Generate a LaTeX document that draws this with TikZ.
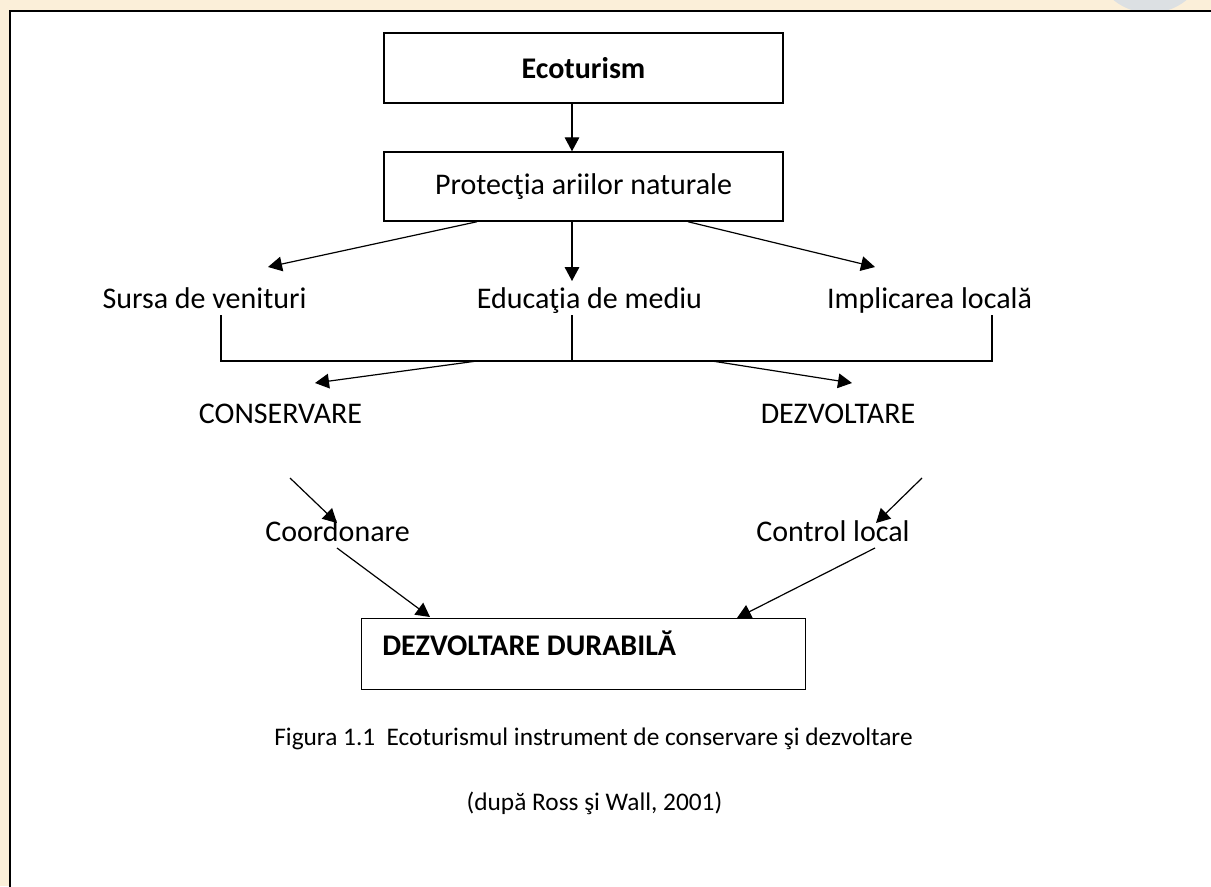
\documentclass[tikz,border=0pt]{standalone}
\usepackage{fontspec}
\setmainfont{Carlito}
\usetikzlibrary{arrows.meta,calc}
\definecolor{cream}{HTML}{FBEFD9}
\definecolor{greyblob}{HTML}{DCE0E3}
\begin{document}
\begin{tikzpicture}[x=0.75pt,y=-0.75pt,
  lbl/.style={inner sep=0pt, anchor=base, font=\fontsize{22.5}{27}\selectfont},
  captxt/.style={inner sep=0pt, anchor=base, font=\fontsize{19}{22}\selectfont},
  boxed/.style={draw, line width=1.1pt, inner sep=0pt, font=\fontsize{22.5}{27}\selectfont},
  conn/.style={line width=0.9pt},
  arr/.style={conn, -{Triangle[length=10.5pt,width=11pt]}},
]
\useasboundingbox (0,0) rectangle (1211,886);
\fill[cream] (0,0) rectangle (1211,886);
\begin{scope}
  \clip (0,0) rectangle (1211,886);
  \fill[greyblob] (1150,-45) circle (43.5pt);
  \fill[white] (10,11) rectangle (1240,920);
  \draw[line width=1.8pt] (10,11) rectangle (1240,920);
\end{scope}

% boxes
\node[boxed, minimum width=299.25pt, minimum height=52.5pt] (b1) at (583.5,68) {\bfseries Ecoturism};
\node[boxed, minimum width=299.25pt, minimum height=51.75pt] (b2) at (583.5,186.5) {Protecţia ariilor naturale};
\node[boxed, minimum width=333pt, minimum height=53.25pt, anchor=north west] (dd) at (361,618) {};
\node[lbl, anchor=base west, font=\fontsize{22.5}{27}\selectfont\bfseries] (ddt) at (382,655) {DEZVOLTARE DURABILĂ};

% labels
\node[lbl] (sursa) at (204.5,308) {Sursa de venituri};
\node[lbl] (edu) at (589.5,308) {Educaţia de mediu};
\node[lbl] (impl) at (929.5,308) {Implicarea locală};
\node[lbl] (cons) at (280.5,423) {CONSERVARE};
\node[lbl] (dezv) at (838,423) {DEZVOLTARE};
\node[lbl] (coord) at (337.5,541) {Coordonare};
\node[lbl] (ctrl) at (833,541) {Control local};
\node[captxt] (fig) at (593.5,745) {Figura 1.1\ \ Ecoturismul instrument de conservare şi dezvoltare};
\node[captxt] (src) at (594.5,810) {(după Ross şi Wall, 2001)};

% connector points
\coordinate (b1o) at ($(b1.south)+(-11.5,0)$);
\coordinate (b2i) at ($(b2.north)+(-11.5,0)$);
\coordinate (b2l) at ($(b2.south)+(-106.5,0)$);
\coordinate (b2m) at ($(b2.south)+(-11.5,0)$);
\coordinate (b2r) at ($(b2.south)+(104.5,0)$);
\coordinate (tS) at (268,267);
\coordinate (tE) at (572,281);
\coordinate (tI) at (875,267);
\coordinate (kS) at (221,315);
\coordinate (kE) at (572,315);
\coordinate (kI) at (992,315);
\coordinate (hS) at (221,361);
\coordinate (hE) at (572,361);
\coordinate (hI) at (992,361);
\coordinate (oC) at (477,361);
\coordinate (oD) at (712,361);
\coordinate (tC) at (315,383);
\coordinate (tD) at (852,383);
\coordinate (sC) at (290,478);
\coordinate (sD) at (922,478);
\coordinate (tCo) at (337,523);
\coordinate (tCt) at (876,523);
\coordinate (oCo) at (337,548);
\coordinate (oCt) at (875,548);
\coordinate (dL) at (430,617);
\coordinate (dR) at (737,618);

\draw[arr] (b1o) -- (b2i);
\draw[arr] (b2l) -- (tS);
\draw[arr] (b2m) -- (tE);
\draw[arr] (b2r) -- (tI);
\draw[conn] (kS) -- (hS) -- (hI) -- (kI);
\draw[conn] (kE) -- (hE);
\draw[arr] (oC) -- (tC);
\draw[arr] (oD) -- (tD);
\draw[arr] (sC) -- (tCo);
\draw[arr] (oCo) -- (dL);
\draw[arr] (sD) -- (tCt);
\draw[arr] (oCt) -- (dR);
\end{tikzpicture}
\end{document}
